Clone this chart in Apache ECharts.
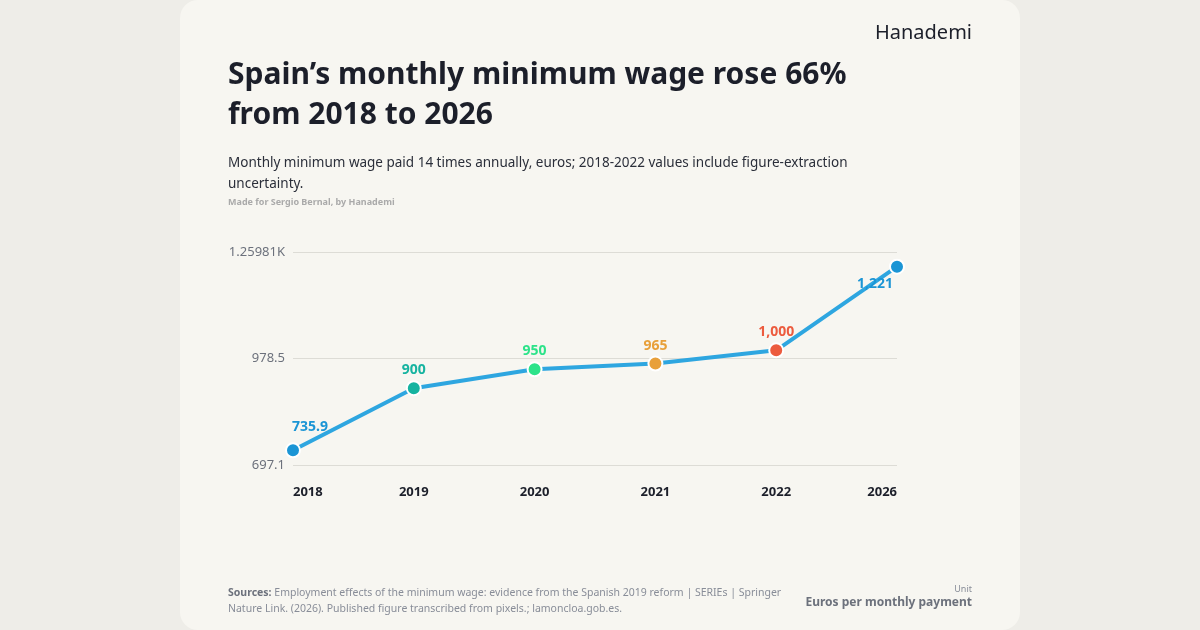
<!DOCTYPE html>
<html><head><meta charset="utf-8">
<script src="https://cdn.jsdelivr.net/npm/echarts@6/dist/echarts.min.js"></script>
<style>
html,body{margin:0;padding:0;background:#eeede8;}
#card{position:absolute;left:180px;top:0;width:840px;height:630px;background:#f7f6f1;border-radius:18px;}
#c{position:absolute;left:0;top:0;width:1200px;height:630px;}
</style></head><body>
<div id="card"></div>
<div id="c"></div>
<script>
const categories = ['2018','2019','2020','2021','2022','2026'];
const values = [735.9, 900, 950, 965, 1000, 1221];
const labels = ['735.9','900','950','965','1,000','1,221'];
const colors = ['#1b95d5','#16b3a0','#2de38a','#e8a03a','#ec5b3e','#1b95d5'];
const yTicks = ['697.1','978.5','1.25981K'];
const yMin = 697.1, yMax = 1259.81;

const chart = echarts.init(document.getElementById('c'));
const F = 'Noto Sans, sans-serif';
chart.setOption({
  animation:false,
  textStyle:{fontFamily:F},
  title:[
    {text:'Spain’s monthly minimum wage rose 66%\nfrom 2018 to 2026',left:223,top:50,
     textStyle:{fontSize:30,fontWeight:'bold',color:'#1c1f2a',lineHeight:40,fontFamily:F}},
    {text:'Monthly minimum wage paid 14 times annually, euros; 2018-2022 values include figure-extraction\nuncertainty.',left:223,top:148,
     textStyle:{fontSize:13.5,fontWeight:'normal',color:'#2b2f3a',lineHeight:21,fontFamily:F}},
    {text:'Made for Sergio Bernal, by Hanademi',left:223,top:193,textStyle:{fontSize:9,color:'#aaa',fontWeight:'bold',fontFamily:F}},
    {text:'Hanademi',right:223,top:18,textStyle:{fontSize:20,color:'#1c1f2a',fontWeight:'normal',fontFamily:F}},
    {text:'{b|Sources:} Employment effects of the minimum wage: evidence from the Spanish 2019 reform | SERIEs | Springer\nNature Link. (2026). Published figure transcribed from pixels.; lamoncloa.gob.es.',left:223,top:580,
     textStyle:{fontSize:10.5,color:'#888d98',fontWeight:'normal',lineHeight:16,fontFamily:F,rich:{b:{fontWeight:'bold',color:'#6c717c',fontSize:10.5}}}},
    {text:'Unit',right:223,top:580,textStyle:{fontSize:9,color:'#888d98',fontWeight:'normal',fontFamily:F}},
    {text:'Euros per monthly payment',right:223,top:592,textStyle:{fontSize:12,color:'#6c717c',fontWeight:'bold',fontFamily:F}}
  ],
  grid:{left:293,right:303,top:252,bottom:165},
  xAxis:{type:'category',data:categories,boundaryGap:false,
    axisLine:{show:false},axisTick:{show:false},
    axisLabel:{margin:21,fontSize:13,fontWeight:'bold',color:'#1c1f2a',alignMinLabel:'left',alignMaxLabel:'right'}},
  yAxis:{type:'value',min:yMin,max:yMax,interval:(yMax-yMin)/2,
    axisLabel:{margin:8,fontSize:13,color:'#6c717c',formatter:(v,i)=>yTicks[i]},
    splitLine:{lineStyle:{color:'#dddcd6'}}},
  series:[{type:'line',data:values.map((v,i)=>({value:v,itemStyle:{color:colors[i]},
      label:{color:colors[i],position:i===0?[7,-22]:(i===5?[-32,18]:'top'),formatter:labels[i]}})),
    symbol:'circle',symbolSize:14,lineStyle:{color:'#2ea6e0',width:4},
    itemStyle:{borderColor:'#fff',borderWidth:2},
    label:{show:true,fontSize:14,fontWeight:'bold',distance:3}}]
});
</script></body></html>
